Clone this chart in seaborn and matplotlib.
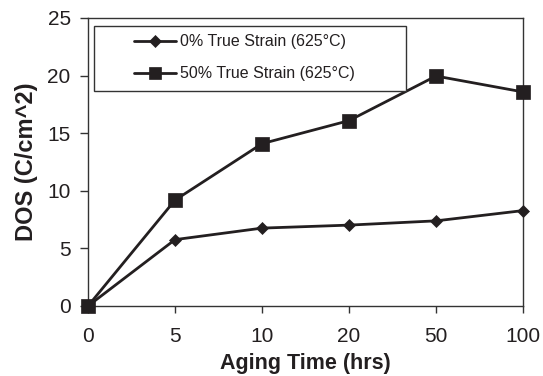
import matplotlib
matplotlib.use("Agg")
import matplotlib.pyplot as plt
from matplotlib.patches import Rectangle
import seaborn as sns
import pandas as pd
import numpy as np

hours = ["0", "5", "10", "20", "50", "100"]
strain0 = [0.0, 5.76, 6.76, 7.02, 7.39, 8.28]
strain50 = [0.0, 9.19, 14.09, 16.09, 19.96, 18.58]
labels = ["0% True Strain (625°C)", "50% True Strain (625°C)"]

sns.set_theme(style="white")
plt.rcParams["font.family"] = ["Liberation Sans", "DejaVu Sans"]

INK = "#231f20"
EDGE = "#333333"

fig = plt.figure(figsize=(5.43, 3.76), dpi=100)
ax = fig.add_axes([0.1621, 0.1862, 0.8011, 0.766])

pos = np.arange(len(hours))
df0 = pd.DataFrame({"pos": pos, "dos": strain0})
df50 = pd.DataFrame({"pos": pos, "dos": strain50})

sns.lineplot(data=df0, x="pos", y="dos", ax=ax, color=INK, lw=2.0,
             marker="D", markersize=6.5, markeredgecolor=INK, markeredgewidth=0.5,
             label=labels[0], clip_on=False, zorder=3)
sns.lineplot(data=df50, x="pos", y="dos", ax=ax, color=INK, lw=2.0,
             marker="s", markersize=9.5, markeredgecolor=INK, markeredgewidth=0.5,
             label=labels[1], clip_on=False, zorder=4)

ax.set_xlim(0, len(hours) - 1)
ax.set_ylim(0, 25)
ax.set_xticks(pos)
ax.set_xticklabels(hours)
ax.set_yticks([0, 5, 10, 15, 20, 25])

for s in ax.spines.values():
    s.set_color(EDGE)
    s.set_linewidth(1.0)
ax.tick_params(axis="x", direction="out", length=5, width=1, color=EDGE,
               labelsize=15, labelcolor=INK, pad=10, bottom=True)
ax.tick_params(axis="y", direction="out", length=6, width=1, color=EDGE,
               labelsize=15, labelcolor=INK, pad=6.5, left=True)

ax.set_xlabel("Aging Time (hrs)", fontsize=15.5, fontweight="bold", color=INK, labelpad=5.5)
ax.set_ylabel("DOS (C/cm^2)", fontsize=17, fontweight="bold", color=INK, labelpad=7)

# legend frame
ax.add_patch(Rectangle((0.014, 0.747), 0.717, 0.225, transform=ax.transAxes,
                       facecolor="white", edgecolor=EDGE, lw=1.0, zorder=5, clip_on=False))
leg = ax.legend(loc="center left", bbox_to_anchor=(0.106, 0.862), fontsize=11.5,
                frameon=False, handlelength=2.6, borderpad=0, labelspacing=1.05,
                handletextpad=0.3, borderaxespad=0)
leg.set_zorder(6)
for h, ms in zip(leg.legend_handles, [6.0, 8.5]):
    h.set_markersize(ms)
for t in leg.get_texts():
    t.set_color(INK)

fig.savefig("out.png", dpi=100)
